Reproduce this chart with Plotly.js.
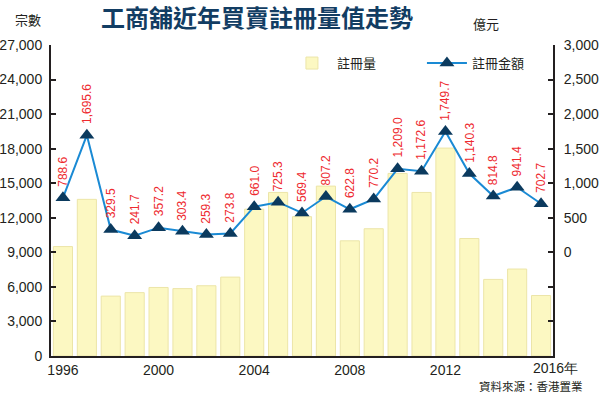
<!DOCTYPE html>
<html><head><meta charset="utf-8">
<script src="https://cdn.plot.ly/plotly-3.0.1.min.js"></script>
<style>html,body{margin:0;padding:0;background:#fff}#chart{width:600px;height:394px}</style>
</head><body><div id="chart"></div>
<script>
const years = [1996,1997,1998,1999,2000,2001,2002,2003,2004,2005,2006,2007,2008,2009,2010,2011,2012,2013,2014,2015,2016];
const counts = [9500,13600,5200,5500,5950,5850,6100,6850,12750,14200,12100,14750,10000,11050,15850,14200,18050,10200,6650,7550,5250];
const amounts = [788.6,1695.6,329.5,241.7,357.2,303.4,259.3,273.8,661.0,725.3,569.4,807.2,622.8,770.2,1209.0,1172.6,1749.7,1140.3,814.8,941.4,702.7];
const xTickVals = [1996,2000,2004,2008,2012];
const leftTicks = [0,3000,6000,9000,12000,15000,18000,21000,24000,27000];
const rightTicks = [-1500,-1000,-500,0,500,1000,1500,2000,2500,3000];

const numFont = "'Liberation Sans Narrow','Liberation Sans',Arial,sans-serif";
const cjkFont = "'Noto Sans CJK TC','Noto Sans CJK SC',sans-serif";
const fmt = v => v.toLocaleString('en-US',{minimumFractionDigits:1,maximumFractionDigits:1});

const traces = [
  {type:'bar', x:years, y:counts, name:'註冊量', yaxis:'y',
   marker:{color:'#fcf8c2', line:{color:'#ece5a8', width:1}}, hoverinfo:'skip'},
  {type:'scatter', mode:'lines+markers', x:years, y:amounts, name:'註冊金額', yaxis:'y2',
   line:{color:'#1a8ad4', width:2}, cliponaxis:false,
   marker:{symbol:'triangle-up', size:13, color:'#0b3a5e'}}
];

const annotations = amounts.map((v,i)=>({
  x:years[i], y:v, xref:'x', yref:'y2', text:fmt(v), showarrow:false,
  textangle:-90, xanchor:'center', yanchor:'bottom', yshift:9,
  font:{family:numFont, size:12, color:'#ee2a2f'}
}));
annotations.push(
  {xref:'paper', yref:'paper', x:0.5, y:1, xanchor:'center', yanchor:'bottom', text:'<b>工商舖近年買賣註冊量值走勢</b>', showarrow:false, xshift:-45, yshift:10, borderpad:0,
   font:{family:cjkFont, size:24, color:'#123d63'}},
  {xref:'paper', yref:'paper', x:0, y:1, xanchor:'center', yanchor:'bottom', xshift:-23, yshift:14, text:'宗數', showarrow:false,
   font:{family:cjkFont, size:13, color:'#231f20'}},
  {xref:'paper', yref:'paper', x:1, y:1, xanchor:'center', yanchor:'bottom', xshift:-67, yshift:10, text:'億元', showarrow:false,
   font:{family:cjkFont, size:13, color:'#231f20'}},
  {xref:'x', yref:'paper', x:2016, y:0, xanchor:'left', yanchor:'top', xshift:-10, yshift:-2, text:'2016年', showarrow:false,
   font:{family:numFont, size:14, color:'#231f20'}},
  {xref:'paper', yref:'paper', x:1, y:0, xanchor:'right', yanchor:'top', xshift:32, yshift:-20, text:'資料來源：香港置業', showarrow:false,
   font:{family:cjkFont, size:11.5, color:'#231f20'}}
);

const layout = {
  width:600, height:394,
  margin:{l:51, r:47, t:45, b:38},
  paper_bgcolor:'#fff', plot_bgcolor:'#fff',
  showlegend:true,
  legend:{orientation:'h', x:0.47, y:0.99, xanchor:'left', yanchor:'top', bgcolor:'rgba(0,0,0,0)',
          font:{family:cjkFont, size:13, color:'#231f20'}, traceorder:'normal', itemwidth:40,
          entrywidth:80, entrywidthmode:'pixels'},
  bargap:0.2,
  xaxis:{range:[1995.5,2016.5], tickvals:xTickVals, ticktext:xTickVals.map(String), showgrid:false, zeroline:false,
         showline:true, linecolor:'#231f20', linewidth:2, ticks:'', tickfont:{family:numFont, size:14, color:'#231f20'}},
  yaxis:{range:[0,27000], tickvals:leftTicks, ticktext:leftTicks.map(v=>v.toLocaleString('en-US')), showgrid:false, zeroline:false,
         showline:true, linecolor:'#231f20', linewidth:2, ticks:'inside', ticklen:5, tickwidth:2, tickcolor:'#231f20',
         tickfont:{family:numFont, size:14, color:'#231f20'}, ticklabelstandoff:4},
  yaxis2:{range:[-1500,3000], overlaying:'y', side:'right', tickvals:rightTicks,
          ticktext:rightTicks.map(v=>v<0?'':v.toLocaleString('en-US')), showgrid:false, zeroline:false,
          showline:true, linecolor:'#231f20', linewidth:2, ticks:'inside', ticklen:5, tickwidth:2, tickcolor:'#231f20',
          tickfont:{family:numFont, size:14, color:'#231f20'}, ticklabelstandoff:6},
  annotations:annotations
};
Plotly.newPlot('chart', traces, layout, {staticPlot:true});
</script></body></html>
